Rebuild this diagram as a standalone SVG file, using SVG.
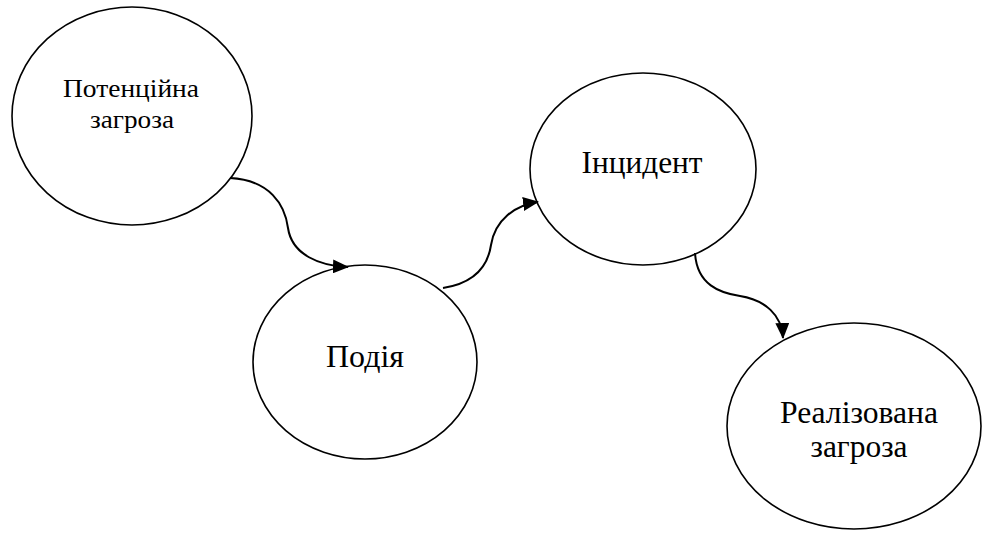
<svg xmlns="http://www.w3.org/2000/svg" width="991" height="535" viewBox="0 0 991 535">
<defs>
<style>
.node ellipse{fill:#fff;stroke:#000;stroke-width:1.6}
.lbl{font-family:"Liberation Serif","DejaVu Serif","Times New Roman",serif;fill:#000;text-anchor:middle}
.conn path{fill:none;stroke:#000;stroke-width:2}
</style>
<marker id="arr" markerWidth="16" markerHeight="14" refX="15" refY="7" orient="auto" markerUnits="userSpaceOnUse">
<path d="M0,0 L16,7 L0,14 z" fill="#000"/>
</marker>
</defs>
<rect width="991" height="535" fill="#fff"/>
<g id="n1" class="node">
<ellipse cx="132" cy="116" rx="120" ry="109"/>
<text class="lbl" x="131" y="97" font-size="26" textLength="136" lengthAdjust="spacingAndGlyphs">Потенційна</text>
<text class="lbl" x="132" y="128" font-size="26" textLength="84" lengthAdjust="spacingAndGlyphs">загроза</text>
</g>
<g id="n2" class="node">
<ellipse cx="365" cy="362" rx="112" ry="97"/>
<text class="lbl" x="365" y="367" font-size="31" textLength="78" lengthAdjust="spacingAndGlyphs">Подія</text>
</g>
<g id="n3" class="node">
<ellipse cx="643" cy="169" rx="113" ry="96"/>
<text class="lbl" x="642" y="173" font-size="31" textLength="121" lengthAdjust="spacingAndGlyphs">Інцидент</text>
</g>
<g id="n4" class="node">
<ellipse cx="854" cy="426" rx="127" ry="103"/>
<text class="lbl" x="859" y="423" font-size="31" textLength="158" lengthAdjust="spacingAndGlyphs">Реалізована</text>
<text class="lbl" x="859" y="457" font-size="31" textLength="97" lengthAdjust="spacingAndGlyphs">загроза</text>
</g>
<g id="connectors" class="conn">
<path d="M230,178 C270,180 285,205 288,228 C292,255 320,266 348,267" marker-end="url(#arr)"/>
<path d="M443,288 C475,283 488,265 491,245 C495,220 515,205 538,202" marker-end="url(#arr)"/>
<path d="M695,253 C697,285 720,293 740,296 C765,300 782,315 783,338" marker-end="url(#arr)"/>
</g>
</svg>
